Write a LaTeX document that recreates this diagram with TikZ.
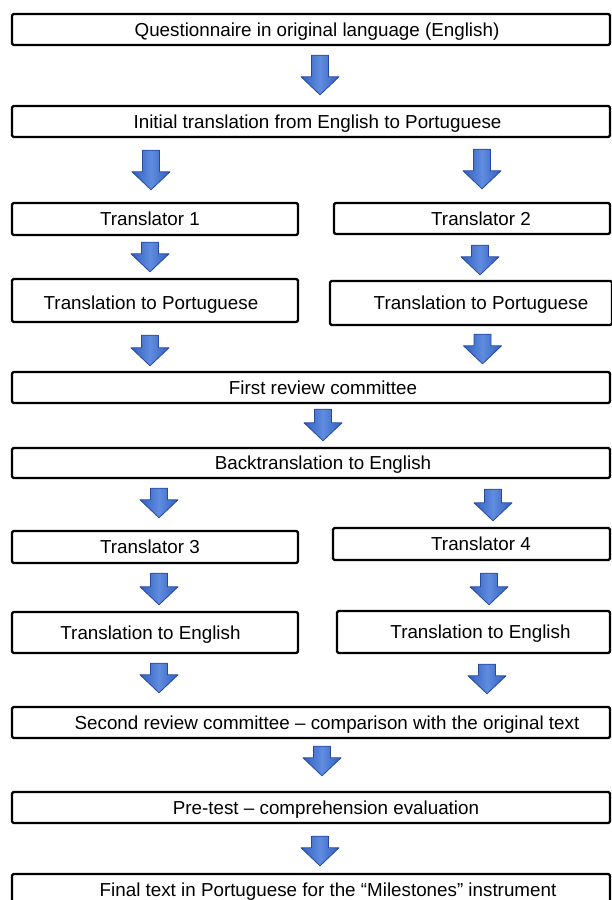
\documentclass[tikz,border=0pt]{standalone}
\usepackage{fontspec}
\setmainfont{Liberation Sans}
\usetikzlibrary{calc}

\definecolor{arrowdark}{RGB}{50,95,190}
\definecolor{arrowlight}{RGB}{95,140,222}
\definecolor{arrowedge}{RGB}{38,72,160}

\tikzset{
  box/.style={draw=black, line width=2.4pt, rounded corners=1.5pt, fill=white, inner sep=0pt},
  txt/.style={inner sep=0pt, text height=13.4pt, text depth=0pt},
  blockarrow/.style 2 args={draw=arrowedge, line width=0.8pt, line join=round,
    left color=arrowdark, right color=arrowdark, middle color=arrowlight,
    to path={let \p1=(\tikztostart), \p2=(\tikztotarget) in
      (\x1-8.5pt,\y1-#1pt) -- (\x1+8.5pt,\y1-#1pt) -- (\x1+8.5pt,\y2+#2pt+18pt)
      -- (\x1+19pt,\y2+#2pt+18pt) -- (\x1,\y2+#2pt) -- (\x1-19pt,\y2+#2pt+18pt)
      -- (\x1-8.5pt,\y2+#2pt+18pt) -- cycle}}
}

\begin{document}
\begin{tikzpicture}[x=1pt, y=-1pt, font=\fontsize{18.8}{22}\selectfont]
        \useasboundingbox (0,0) rectangle (612,900);
        % boxes
        \node[box, minimum width=598pt, minimum height=31pt] (q) at (311, 29.5) {};
        \node[box, minimum width=598pt, minimum height=31pt] (init) at (311, 121.5) {};
        \node[box, minimum width=286pt, minimum height=32pt] (t1) at (155, 219) {};
        \node[box, minimum width=276pt, minimum height=31pt] (t2) at (472, 218.5) {};
        \node[box, minimum width=286pt, minimum height=43pt] (p1) at (155, 300.5) {};
        \node[box, minimum width=282pt, minimum height=44pt] (p2) at (471, 303) {};
        \node[box, minimum width=598pt, minimum height=31pt] (r1) at (311, 387.5) {};
        \node[box, minimum width=598pt, minimum height=30pt] (bt) at (311, 463) {};
        \node[box, minimum width=286pt, minimum height=32pt] (t3) at (155, 547) {};
        \node[box, minimum width=277pt, minimum height=32pt] (t4) at (471.5, 544) {};
        \node[box, minimum width=286pt, minimum height=41pt] (e1) at (155, 632.5) {};
        \node[box, minimum width=273pt, minimum height=42pt] (e2) at (473.5, 632) {};
        \node[box, minimum width=598pt, minimum height=31pt] (r2) at (311, 722.5) {};
        \node[box, minimum width=598pt, minimum height=31pt] (pt) at (311, 807.5) {};
        \node[box, minimum width=598pt, minimum height=31pt] (f) at (311, 889.5) {};
        % texts
        \node[txt] (q-txt) at ([xshift=6pt]q.center) {Questionnaire in original language (English)};
        \node[txt] (init-txt) at ([xshift=6.5pt]init.center) {Initial translation from English to Portuguese};
        \node[txt] (t1-txt) at ([xshift=-5pt]t1.center) {Translator 1};
        \node[txt] (t2-txt) at ([xshift=9pt]t2.center) {Translator 2};
        \node[txt] (p1-txt) at ([xshift=-4pt, yshift=-2pt]p1.center) {Translation to Portuguese};
        \node[txt] (p2-txt) at ([xshift=10pt]p2.center) {Translation to Portuguese};
        \node[txt] (r1-txt) at ([xshift=12pt]r1.center) {First review committee};
        \node[txt] (bt-txt) at ([xshift=12pt]bt.center) {Backtranslation to English};
        \node[txt] (t3-txt) at ([xshift=-5pt]t3.center) {Translator 3};
        \node[txt] (t4-txt) at ([xshift=9.5pt]t4.center) {Translator 4};
        \node[txt] (e1-txt) at ([xshift=-4.5pt]e1.center) {Translation to English};
        \node[txt] (e2-txt) at ([xshift=7pt]e2.center) {Translation to English};
        \node[txt] (r2-txt) at ([xshift=16pt]r2.center) {Second review committee -- comparison with the original text};
        \node[txt] (pt-txt) at ([xshift=15pt]pt.center) {Pre-test -- comprehension evaluation};
        \node[txt] (f-txt) at ([xshift=17pt]f.center) {Final text in Portuguese for the ``Milestones'' instrument};
        % arrows
        \draw[blockarrow={9}{10}] ([xshift=9pt]q.south) to (init.north);
        \draw[blockarrow={12}{12}] ([xshift=-160pt]init.south) to (t1.north);
        \draw[blockarrow={11}{13}] ([xshift=171pt]init.south) to (t2.north);
        \draw[blockarrow={6}{6}] ([xshift=-5pt]t1.south) to (p1.north);
        \draw[blockarrow={10}{5}] ([xshift=8pt]t2.south) to (p2.north);
        \draw[blockarrow={12}{5}] ([xshift=-5pt]p1.south) to (r1.north);
        \draw[blockarrow={8}{7}] ([xshift=11.5pt]p2.south) to (r1.north);
        \draw[blockarrow={5}{6}] ([xshift=12pt]r1.south) to (bt.north);
        \draw[blockarrow={9}{12}] ([xshift=-152pt]bt.south) to (t3.north);
        \draw[blockarrow={10}{6}] ([xshift=182pt]bt.south) to (t4.north);
        \draw[blockarrow={9}{6}] ([xshift=4pt]t3.south) to (e1.north);
        \draw[blockarrow={12}{5}] ([xshift=17.5pt]t4.south) to (e2.north);
        \draw[blockarrow={9}{13}] ([xshift=4pt]e1.south) to (r2.north);
        \draw[blockarrow={10}{12}] ([xshift=13.5pt]e2.south) to (r2.north);
        \draw[blockarrow={7}{15}] ([xshift=11pt]r2.south) to (pt.north);
        \draw[blockarrow={12}{7}] ([xshift=9pt]pt.south) to (f.north);
    \end{tikzpicture}
\end{document}
